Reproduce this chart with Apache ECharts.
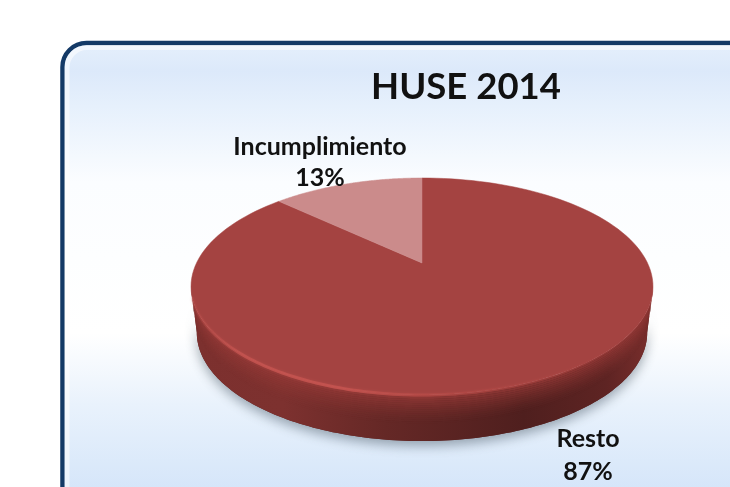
<!DOCTYPE html>
<html><head><meta charset="utf-8">
<style>html,body{margin:0;padding:0;background:#fff}#c{width:730px;height:487px}</style>
<script src="https://cdn.jsdelivr.net/npm/echarts@6/dist/echarts.min.js"></script>
</head><body><div id="c"></div>
<script>
const chartTitle = 'HUSE 2014';
const categories = ['Resto', 'Incumplimiento'];
const values = [87, 13];
const labelSuffix = '%';

const FONT = 'Lato';
const CX = 422, CY0 = 263, K = 225.5, A = -46.45, C = 0.2166, DEPTH = 46, BOTTOM_SCALE = 0.975;
const COLORS = ['#a44341', '#cb8b8b'];
const total = values.reduce((a, b) => a + b, 0);

// perspective projection of the pie's unit circle; theta runs clockwise from the top
function project(theta) {
  const u = Math.sin(theta), v = Math.cos(theta), w = 1 + C * v;
  return [CX + K * u / w, (A * v + CY0) / w];
}
function arc(t0, t1, n) {
  const pts = [];
  for (let i = 0; i <= n; i++) pts.push(project(t0 + (t1 - t0) * i / n));
  return pts;
}
function lowered(pts, d) {
  const s = 1 - (1 - BOTTOM_SCALE) * d / DEPTH;
  return pts.map(p => [CX + (p[0] - CX) * s, p[1] + d]);
}
// the rim runs between the two horizontal extremes of the projected ellipse
const FRONT0 = Math.PI / 2 + Math.asin(C), FRONT1 = Math.PI * 1.5 - Math.asin(C);

function renderItem(params, api) {
  const idx = params.dataIndex;
  let start = 0;
  for (let i = 0; i < idx; i++) start += api.value(0, i) / total * Math.PI * 2;
  const end = start + api.value(0) / total * Math.PI * 2;
  const children = [];
  const a0 = Math.max(start, FRONT0), a1 = Math.min(end, FRONT1);
  if (a1 > a0) {
    const top = arc(a0, a1, 140);
    const band = (d0, d1) => lowered(top, d0).concat(lowered(top, d1).reverse());
    // soft cast shadow, only below the rim
    children.push({ type: 'polygon', shape: { points: band(16, DEPTH) },
      style: { fill: '#5a2423', shadowBlur: 12, shadowColor: 'rgba(70,85,100,0.5)', shadowOffsetY: 5 } });
    // rim base
    children.push({ type: 'polygon', shape: { points: band(0, DEPTH) },
      style: { fill: { type: 'linear', x: 0, y: 0, x2: 1, y2: 0, colorStops: [
        { offset: 0, color: '#7c302e' }, { offset: 0.2, color: '#7d312f' }, { offset: 0.42, color: '#652826' },
        { offset: 0.72, color: '#4f1f1e' }, { offset: 0.9, color: '#5e2423' }, { offset: 1, color: '#7a2e2c' }] } } });
    // soft vertical fade of the rim, lighter at its upper edge
    const N = 14, span = DEPTH * 0.62;
    for (let i = 0; i < N; i++) {
      const alpha = 0.85 * Math.pow(1 - i / N, 1.5);
      children.push({ type: 'polygon', shape: { points: band(span * i / N, span * (i + 1) / N) },
        style: { fill: 'rgba(150,58,55,' + alpha.toFixed(3) + ')' } });
    }
  }
  const pts = [[CX, CY0]].concat(arc(start, end, 140));
  children.push({ type: 'polygon', shape: { points: pts },
    style: { fill: COLORS[idx], stroke: COLORS[idx], lineWidth: 0.5 } });
  if (a1 > a0) {
    children.push({ type: 'polyline', shape: { points: arc(Math.PI * 0.72, Math.PI * 1.4, 120) },
      style: { fill: 'none', lineWidth: 3, shadowBlur: 3, shadowColor: 'rgba(190,80,76,0.6)',
        stroke: { type: 'linear', x: 0, y: 0, x2: 1, y2: 0, colorStops: [
          { offset: 0, color: 'rgba(196,82,78,0.15)' }, { offset: 0.12, color: 'rgba(198,84,80,0.8)' }, { offset: 0.35, color: 'rgba(198,84,80,0.85)' },
          { offset: 0.55, color: 'rgba(190,78,74,0.5)' }, { offset: 1, color: 'rgba(170,66,62,0)' }] } } });
  }
  // the slice's label, set outside the pie on its mid-angle side
  const isMinor = api.value(0) < total / 2;
  children.push({ type: 'text', style: {
    text: categories[idx] + '\n' + api.value(0) + labelSuffix,
    x: isMinor ? 320 : 588, y: isMinor ? 131 : 422,
    fill: '#111', font: 'bold 25px ' + FONT, align: 'center', lineHeight: isMinor ? 31 : 33 }, z2: 10 });
  return { type: 'group', children };
}

const chart = echarts.init(document.getElementById('c'), null, { renderer: 'canvas' });
chart.setOption({
  animation: false,
  backgroundColor: '#ffffff',
  title: { text: chartTitle, left: 461, top: 64, textAlign: 'center',
    textStyle: { fontFamily: FONT, fontWeight: 'bold', fontSize: 36.5, color: '#111' } },
  graphic: [
    { type: 'rect', z: -10, shape: { x: 62.5, y: 43, width: 720, height: 500, r: 24 },
      style: { stroke: '#143a66', lineWidth: 4.5,
        fill: { type: 'linear', x: 0, y: 0, x2: 0, y2: 1, colorStops: [
          { offset: 0, color: '#e6f0fc' }, { offset: 0.06, color: '#dce9fa' }, { offset: 0.13, color: '#e6f0fc' },
          { offset: 0.28, color: '#fbfdff' }, { offset: 0.58, color: '#ffffff' },
          { offset: 0.72, color: '#e9f2fc' }, { offset: 0.9, color: '#d4e5f9' }, { offset: 1, color: '#d4e5f9' }] } } },
    { type: 'rect', z: -9, shape: { x: 67, y: 47.5, width: 711, height: 491, r: 20 },
      style: { fill: 'none', stroke: 'rgba(255,255,255,0.55)', lineWidth: 5 } }
  ],
  series: [{
    type: 'custom', coordinateSystem: 'none', renderItem,
    data: values.map((v, i) => ({ name: categories[i], value: [v] })),
    clip: false
  }]
});
</script></body></html>
